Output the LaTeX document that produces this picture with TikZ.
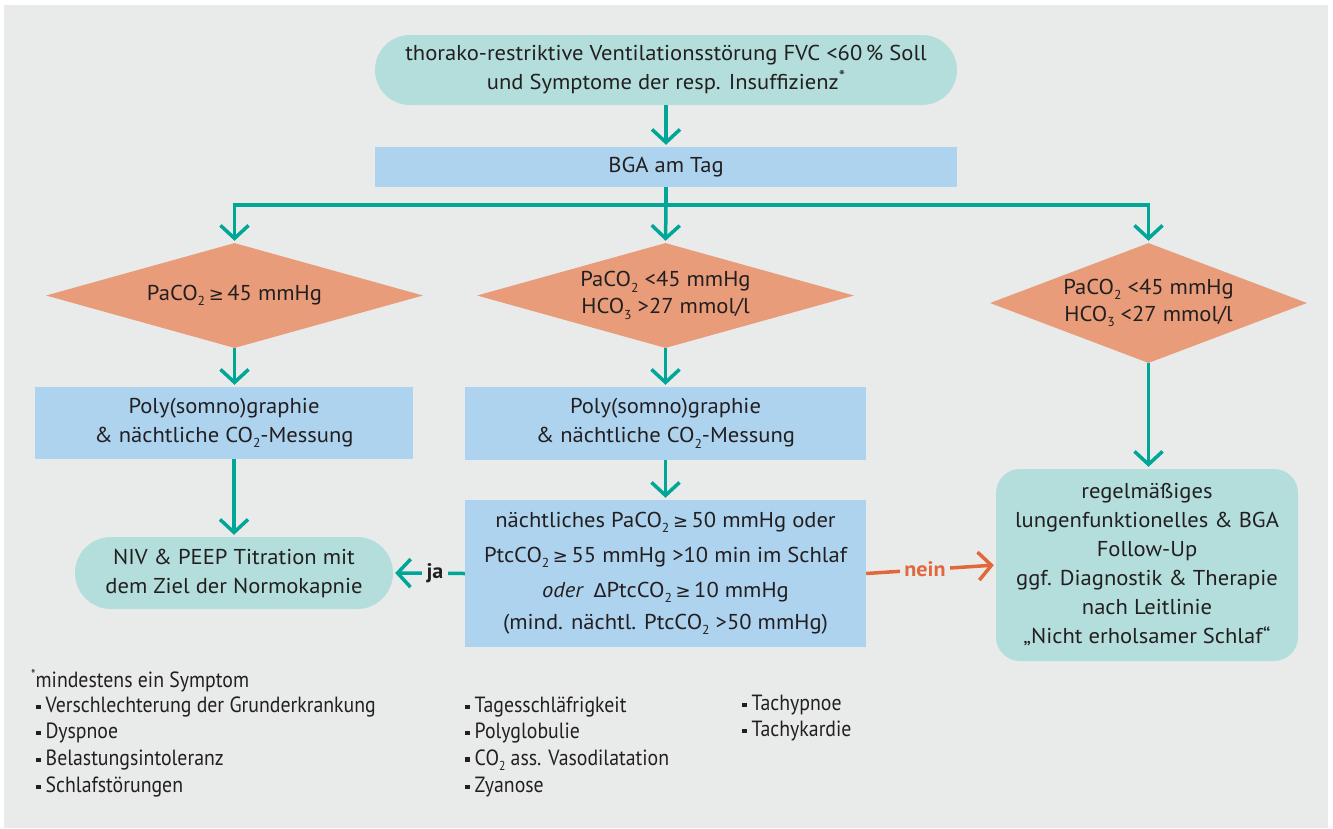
\documentclass[tikz,border=0pt]{standalone}
\usepackage{fontspec}
\setmainfont{PT Sans}[FakeStretch=1.05]
\newfontfamily\symfont{DejaVu Sans}
\newfontfamily\narrowfont[FakeStretch=0.9]{PT Sans}
\usetikzlibrary{arrows.meta,shapes.geometric}

\definecolor{bggray}{HTML}{E9EBEA}
\definecolor{arrowteal}{HTML}{00A696}
\definecolor{pillteal}{HTML}{B3DEDC}
\definecolor{boxblue}{HTML}{ADD3EF}
\definecolor{diaorange}{HTML}{E89C79}
\definecolor{neinorange}{HTML}{E2683C}
\definecolor{txt}{HTML}{231F20}

\newcommand{\lo}[1]{\raisebox{-0.5ex}{\fontsize{13}{13}\selectfont #1}}
\newcommand{\gsym}{{\symfont\fontsize{18}{18}\selectfont ≥}}
\newcommand{\dsym}{{\symfont\fontsize{19}{19}\selectfont Δ}}
\newcommand{\sqb}{\raisebox{0.3ex}{\rule{4.5pt}{4.5pt}}\hspace{5pt}}

\tikzset{
  every node/.style={text=txt, font=\fontsize{21.5}{29}\selectfont, align=center, inner sep=0pt},
  pillnode/.style={fill=pillteal, rounded corners=35pt},
  bluebox/.style={fill=boxblue},
  decision/.style={diamond, fill=diaorange},
  conn/.style={draw=arrowteal, line width=3.5pt, -{Straight Barb[length=13pt,width=28pt,line width=3.5pt]}, shorten >=2pt},
  plain/.style={draw=arrowteal, line width=3.5pt},
  nconn/.style={draw=neinorange, line width=3.5pt, -{Straight Barb[length=13pt,width=28pt,line width=3.5pt]}, shorten >=2pt},
  note/.style={anchor=west, font=\narrowfont\fontsize{22}{24}\selectfont},
}

\begin{document}
\begin{tikzpicture}[x=1pt,y=-1pt]
  % page and backdrop
  \fill[white] (0,0) rectangle (1333,828);
  \fill[bggray] (4,5) rectangle (1328,828);

  % main flow
  \node[pillnode, minimum width=582pt, minimum height=70pt] (start) at (666,70)
    {thorako-restriktive Ventilationsstörung FVC <60\,\% Soll\\
     und Symptome der resp. Insuffizienz\raisebox{0.7ex}{\fontsize{17}{17}\selectfont *}};
  \node[bluebox, minimum width=582pt, minimum height=40pt] (bga) at (666,167) {BGA am Tag};
  \coordinate (bus) at (666,205);

  \node[decision, aspect=3.59, minimum width=377pt, minimum height=105pt] (dl) at (234.5,295.5)
    {PaCO\lo{2}\,\gsym\,45 mmHg};
  \node[decision, aspect=3.59, minimum width=377pt, minimum height=105pt, font=\fontsize{21.5}{27}\selectfont] (dm) at (665.5,295.5)
    {PaCO\lo{2} <45 mmHg\\HCO\lo{3} >27 mmol/l};
  \node[decision, aspect=2.64, minimum width=317pt, minimum height=120pt, font=\fontsize{21.5}{27}\selectfont] (dr) at (1148.5,303)
    {PaCO\lo{2} <45 mmHg\\HCO\lo{3} <27 mmol/l};

  \node[bluebox, minimum width=378pt, minimum height=72pt] (pl) at (224,423)
    {Poly(somno)graphie\\ \& nächtliche CO\lo{2}-Messung};
  \node[bluebox, minimum width=401pt, minimum height=73pt] (pm) at (665.5,423.5)
    {Poly(somno)graphie\\ \& nächtliche CO\lo{2}-Messung};

  \node[pillnode, rounded corners=36pt, minimum width=318pt, minimum height=72pt] (niv) at (234,573)
    {NIV \& PEEP Titration mit\\dem Ziel der Normokapnie};
  \node[bluebox, minimum width=401pt, minimum height=147pt, font=\fontsize{21.5}{35}\selectfont] (crit) at (665.5,573.5)
    {nächtliches PaCO\lo{2}\,\gsym\,50 mmHg oder\\
     PtcCO\lo{2}\,\gsym\,55 mmHg >10 min im Schlaf\\
     \textit{oder}\,\ \dsym PtcCO\lo{2}\,\gsym\,10 mmHg\\[-3pt]
     (mind. nächtl. PtcCO\lo{2} >50 mmHg)};
  \node[pillnode, rounded corners=24pt, minimum width=302pt, minimum height=192pt] (follow) at (1147,565)
    {regelmäßiges\\lungenfunktionelles \& BGA\\Follow-Up\\ggf. Diagnostik \& Therapie\\nach Leitlinie\\„Nicht erholsamer Schlaf“};

  % connectors
  \draw[conn] (start.south) -- (bga.north);
  \draw[plain] (bga.south) -- (bus);
  \draw[conn] (bus) -| (dl.north);
  \draw[conn] (bus) -- (dm.north);
  \draw[conn] (bus) -| (dr.north);
  \draw[conn] (dl.south) -- (dl.south |- pl.north);
  \draw[conn] (dm.south) -- (pm.north);
  \draw[conn] (dr.south) -- (dr.south |- follow.north);
  \draw[conn] (pl.south -| niv.north) -- (niv.north);
  \draw[conn] (pm.south) -- (crit.north);
  \draw[conn] (crit.west) -- node[fill=bggray, inner xsep=5pt, inner ysep=3pt, font=\bfseries\fontsize{21}{24}\selectfont, xshift=6pt] (ja) {ja} (niv.east);
  \draw[nconn] (crit.east) -- node[fill=bggray, inner xsep=4pt, inner ysep=3pt, text=neinorange, font=\bfseries\fontsize{21}{24}\selectfont, xshift=-6pt] (nein) {nein} (follow.west);

  % footnote with the list of symptoms
  \node[note] (fn) at (31,681) {\raisebox{0.7ex}{\fontsize{14}{14}\selectfont *}mindestens ein Symptom};
  \node[note] (s1) at (36,707) {\sqb Verschlechterung der Grunderkrankung};
  \node[note] (s2) at (36,733) {\sqb Dyspnoe};
  \node[note] (s3) at (36,760) {\sqb Belastungsintoleranz};
  \node[note] (s4) at (36,787) {\sqb Schlafstörungen};
  \node[note] (s5) at (465,707) {\sqb Tagesschläfrigkeit};
  \node[note] (s6) at (465,733) {\sqb Polyglobulie};
  \node[note] (s7) at (465,760) {\sqb CO\lo{2} ass. Vasodilatation};
  \node[note] (s8) at (465,787) {\sqb Zyanose};
  \node[note] (s9) at (742,705) {\sqb Tachypnoe};
  \node[note] (s10) at (742,731) {\sqb Tachykardie};
\end{tikzpicture}
\end{document}
